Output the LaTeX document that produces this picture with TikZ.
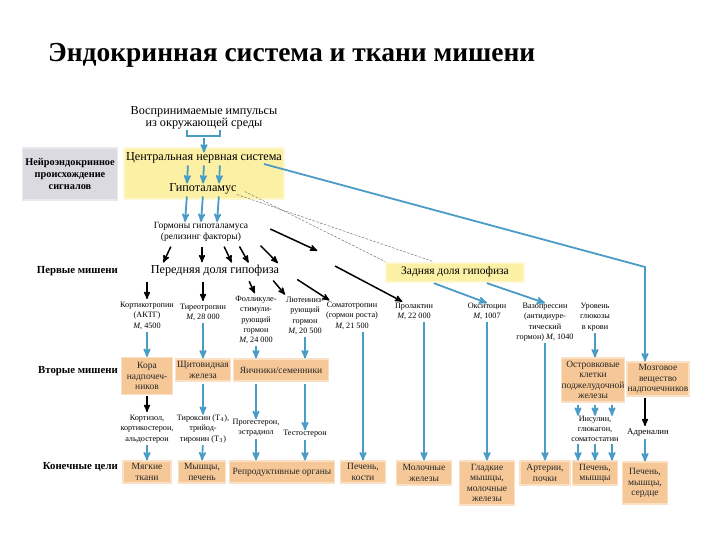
\documentclass[tikz,border=0pt]{standalone}
\usepackage{fontspec}
\setmainfont{Liberation Serif}
\usetikzlibrary{%
  arrows,%
  calc,%
  positioning,%
  backgrounds}

\definecolor{arrowblue}{RGB}{74,156,198}
\definecolor{targetfill}{RGB}{246,200,152}
\definecolor{bandfill}{RGB}{252,240,165}
\definecolor{greyfill}{RGB}{218,218,224}

\begin{document}
\begin{tikzpicture}
  [x=1pt,y=-1pt,>=stealth',
   every node/.style={inner sep=0pt,align=center},
   hormone/.style={font=\fontsize{8.2}{10.3}\selectfont},
   organ/.style={font=\fontsize{9.5}{10.3}\selectfont,fill=targetfill,draw=targetfill!55,
                 line width=1.2pt,minimum height=22pt,text=black!85},
   row label/.style={anchor=east,font=\fontsize{10.8}{12}\selectfont\bfseries},
   big/.style={font=\fontsize{12.2}{12.5}\selectfont},
   blue line/.style={draw=arrowblue,line width=1.8pt},
   blue arrow/.style={->,blue line,shorten <=2pt},
   black arrow/.style={->,line width=1.5pt,shorten <=5pt,shorten >=3pt},
   dash line/.style={draw=black!55,line width=.5pt,dash pattern=on 2.5pt off 1.5pt}]

  \useasboundingbox[fill=white] (0,0) rectangle (720,540);
  \node[anchor=base west,font=\fontsize{27.5}{30}\selectfont\bfseries] (title) at (48,62)
    {Эндокринная система и ткани мишени};

  % neuroendocrine level
  \node[fill=greyfill,draw=greyfill!60,line width=1.2pt,minimum width=95pt,minimum height=52pt,
        font=\fontsize{10.3}{11.8}\selectfont\bfseries] (neuro) at (70,174)
    {Нейроэндокринное\\происхождение\\сигналов};
  \node[fill=bandfill,draw=bandfill!50,line width=2pt,minimum width=160pt,
        minimum height=51pt] (band) at (204,174) {};
  \node[big] (imp) at (204,118) {Воспринимаемые импульсы\\из окружающей среды};
  \node[big] (cns) at (204,158) {Центральная нервная система};
  \node[big] (hyp) at (203,189) {Гипоталамус};
  \node[font=\fontsize{9.5}{11.5}\selectfont] (rel) at (201,232)
    {Гормоны гипоталамуса\\(релизинг факторы)};

  \coordinate (brace) at (204,136);
  \draw[blue line] ([xshift=-17pt]imp.south) |- (brace) -| ([xshift=16pt]imp.south);
  \draw[blue arrow] (brace) -- (cns.north);
  \foreach \dx in {-16,0,16} {
    \draw[blue arrow] ([xshift=\dx pt]cns.south) -- ([xshift=\dx pt]hyp.north);
    \draw[blue arrow] ([xshift=\dx pt]hyp.south) -- ([xshift=\dx pt]rel.north);
  }

  % pituitary
  \node[row label] (lab1) at (118,271) {Первые мишени};
  \node[big] (ant) at (215,271) {Передняя доля гипофиза};
  \node[fill=bandfill,draw=bandfill!50,line width=2pt,minimum width=138pt,minimum height=19pt,
        font=\fontsize{11.5}{12}\selectfont] (post) at (455,272) {Задняя доля гипофиза};

  \draw[dash line] (hyp.south east) -- ([xshift=-22pt]post.north);
  \draw[dash line] ([xshift=8pt,yshift=3pt]hyp.south east) -- (post.north west);

  \coordinate (a6end) at (320,252);
  \coordinate (b6start) at (335,266);

  % first targets
  \node[hormone,anchor=north] (acth)   at (147,302) {Кортикотропин\\(АКТГ)\\\textit{M}, 4500};
  \node[hormone,anchor=north] (tsh)    at (203,304) {Тиреотропин\\\textit{M}, 28 000};
  \node[hormone,anchor=north] (fsh)    at (256,296) {Фолликуле-\\стимули-\\рующий\\гормон\\\textit{M}, 24 000};
  \node[hormone,anchor=north] (lh)     at (305,297) {Лютеиниз-\\рующий\\гормон\\\textit{M}, 20 500};
  \node[hormone,anchor=north] (somato) at (352,302) {Соматотропин\\(гормон роста)\\\textit{M}, 21 500};
  \node[hormone,anchor=north] (prl)    at (414,303) {Пролактин\\\textit{M}, 22 000};
  \node[hormone,anchor=north] (oxy)    at (487,303) {Окситоцин\\\textit{M}, 1007};
  \node[hormone,anchor=north] (vaso)   at (545,303) {Вазопрессин\\(антидиуре-\\тический\\гормон) \textit{M}, 1040};
  \node[hormone,anchor=north] (gluc)   at (595,303) {Уровень\\глюкозы\\в крови};

  \draw[black arrow] ([xshift=-28pt]rel.south) -- ([xshift=-53pt]ant.north);
  \draw[black arrow] ([xshift=1pt]rel.south)   -- ([xshift=-13pt]ant.north);
  \draw[black arrow] ([xshift=21pt]rel.south)  -- ([xshift=18pt]ant.north);
  \draw[black arrow] ([xshift=36pt]rel.south)  -- ([xshift=35pt]ant.north);
  \draw[black arrow] ([xshift=56pt]rel.south)  -- ([xshift=65pt]ant.north);
  \draw[black arrow,shorten <=0pt] ([xshift=22pt,yshift=3pt]rel.east) -- (a6end);

  \draw[black arrow] (acth.north |- ant.south) -- (acth.north);
  \draw[black arrow] (tsh.north |- ant.south) -- (tsh.north);
  \draw[black arrow] ([xshift=32pt]ant.south) -- (fsh.north);
  \draw[black arrow] ([xshift=55pt]ant.south) -- ([xshift=-18pt]lh.north);
  \draw[black arrow] ([xshift=78pt]ant.south) -- ([xshift=-20pt]somato.north);
  \draw[black arrow,shorten <=0pt] (b6start) -- ([xshift=-9pt]prl.north);

  \draw[blue arrow] ([xshift=-23pt]post.south) -- (oxy.north);
  \draw[blue arrow] ([xshift=30pt]post.south) -- (vaso.north);

  % second targets
  \node[row label] (lab2) at (118,371) {Вторые мишени};
  \node[organ,minimum width=51pt,minimum height=37pt] (adr) at (147,376) {Кора\\надпочеч-\\ников};
  \node[organ,minimum width=55pt] (thy) at (203,370) {Щитовидная\\железа};
  \node[organ,minimum width=95pt] (gon) at (281,370) {Яичники/семенники};
  \node[organ,minimum width=63pt,minimum height=44pt] (isl) at (593,380)
    {Островковые\\клетки\\поджелудочной\\железы};
  \node[organ,minimum width=62pt,minimum height=34pt] (med) at (658,379)
    {Мозговое\\вещество\\надпочечников};

  \coordinate (turn) at (645,267);
  \draw[blue arrow] ([xshift=-20pt]cns.south east) -- (turn) -- (turn |- med.north);

  \draw[blue arrow] (acth.south) -- (adr.north);
  \draw[blue arrow] (tsh.south) -- (thy.north);
  \draw[blue arrow] (fsh.south) -- (fsh.south |- gon.north);
  \draw[blue arrow] (lh.south) -- (lh.south |- gon.north);
  \draw[blue arrow] (gluc.south) -- (gluc.south |- isl.north);

  % hormones of second targets
  \node[hormone] (cort) at (147,429) {Кортизол,\\кортикостерон,\\альдостерон};
  \node[hormone] (thyr) at (203,429) {Тироксин (T$_4$),\\трийод-\\тиронин (T$_3$)};
  \node[hormone] (prog) at (256,428) {Прогестерон,\\эстрадиол};
  \node[hormone] (test) at (305,434) {Тестостерон};
  \node[hormone] (ins)  at (595,429) {Инсулин,\\глюкагон,\\соматостатин};
  \node[font=\fontsize{8.8}{10}\selectfont] (adrn) at (648,433) {Адреналин};

  \draw[black arrow,shorten <=1pt] (adr.south) -- (cort.north);
  \draw[blue arrow] (thy.south) -- (thyr.north);
  \draw[blue arrow] (prog.north |- gon.south) -- (prog.north);
  \draw[blue arrow] (test.north |- gon.south) -- (test.north);
  \foreach \dx in {-17,0,17}
    \draw[blue arrow] ([xshift=\dx pt]ins.north |- isl.south) -- ([xshift=\dx pt]ins.north);
  \draw[black arrow,shorten <=1pt] (turn |- med.south) -- (turn |- adrn.north);

  % final targets
  \node[row label] (lab3) at (118,467) {Конечные цели};
  \node[organ,minimum width=48pt] (soft)   at (147,472) {Мягкие\\ткани};
  \node[organ,minimum width=47pt] (musl)   at (202,472) {Мышцы,\\печень};
  \node[organ,minimum width=105pt] (repr)  at (282,472) {Репродуктивные органы};
  \node[organ,minimum width=45pt] (bone)   at (363,472) {Печень,\\кости};
  \node[organ,minimum width=55pt,minimum height=24pt] (mamm) at (424,473) {Молочные\\железы};
  \node[organ,minimum width=55pt,minimum height=44pt] (smooth) at (487,483)
    {Гладкие\\мышцы,\\молочные\\железы};
  \node[organ,minimum width=50pt,minimum height=24pt] (art)  at (545,473) {Артерии,\\почки};
  \node[organ,minimum width=45pt,minimum height=24pt] (liv1) at (595,473) {Печень,\\мышцы};
  \node[organ,minimum width=45pt,minimum height=42pt] (liv2) at (645,483) {Печень,\\мышцы,\\сердце};

  \draw[blue arrow] (cort.south) -- (soft.north);
  \draw[blue arrow] (thyr.south) -- (musl.north);
  \draw[blue arrow] (prog.south) -- (prog.south |- repr.north);
  \draw[blue arrow] (test.south) -- (test.south |- repr.north);
  \draw[blue arrow] (bone.north |- somato.south) -- (bone.north);
  \draw[blue arrow] (mamm.north |- prl.south) -- (mamm.north);
  \draw[blue arrow] (oxy.south) -- (smooth.north);
  \draw[blue arrow] (vaso.south) -- (art.north);
  \foreach \dx in {-17,0,17}
    \draw[blue arrow] ([xshift=\dx pt]ins.south) -- ([xshift=\dx pt]liv1.north);
  \draw[blue arrow] (adrn.south -| liv2.north) -- (liv2.north);

\end{tikzpicture}
\end{document}
